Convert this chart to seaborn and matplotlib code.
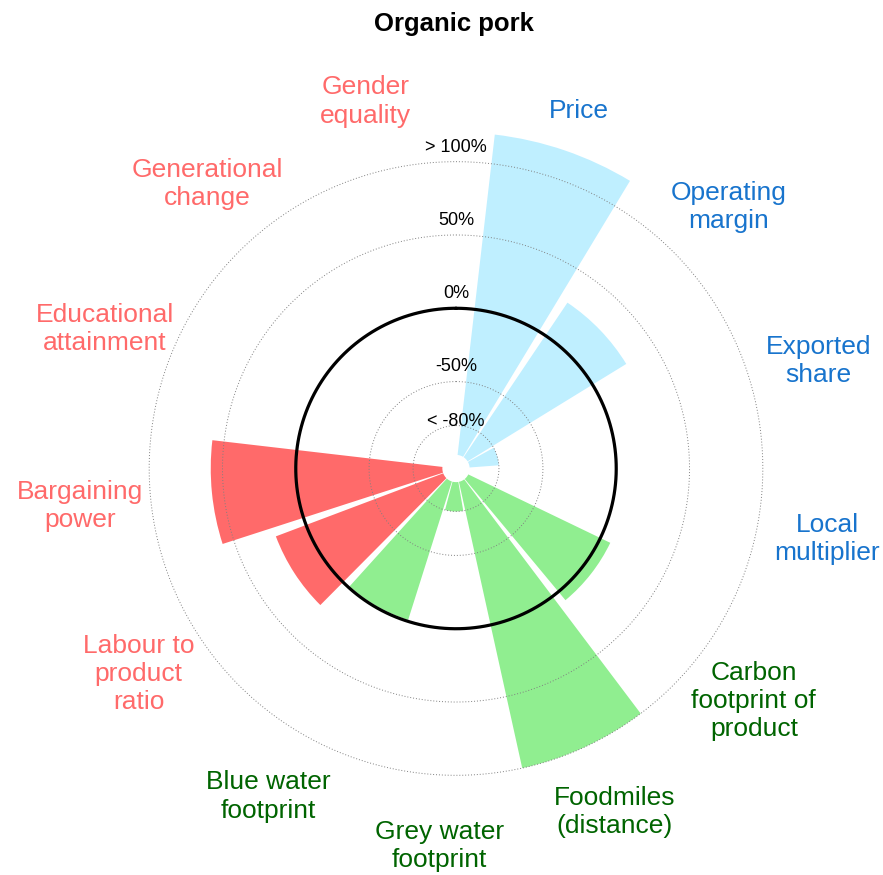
import numpy as np
import pandas as pd
import matplotlib
matplotlib.use("Agg")
import matplotlib.pyplot as plt
import seaborn as sns

# Dữ liệu
categories = ["Price", "Operating\nmargin", "Exported\nshare", "Local\nmultiplier",
              "Carbon\nfootprint of\nproduct", "Foodmiles\n(distance)", "Grey water\nfootprint",
              "Blue water\nfootprint", "Labour to\nproduct\nratio", "Bargaining\npower",
              "Educational\nattainment", "Generational\nchange", "Gender\nequality"]
groups = ["economic"] * 4 + ["environmental"] * 4 + ["social"] * 5
values = [120, 27, -80, np.nan, 7.5, 100, -80, -1, 22, 58, np.nan, np.nan, np.nan]

ring_values = [-80, -50, 50, 100]
ring_labels = ["< -80%", "-50%", "0%", "50%", "> 100%"]
ring_label_pos = [-77.5, -40, 10, 60, 110]

bar_colors = {"economic": "#BFEFFF", "environmental": "#90EE90", "social": "#FF6A6A"}
text_colors = {"economic": "#1874CD", "environmental": "#006400", "social": "#FF6A6A"}

BASE = -100          # bars start here
R_MIN = -109.3       # centre of the plot
R_MAX = 125

n = len(categories)
step = 2 * np.pi / 13.2
start = np.deg2rad(18.9)
theta = start + step * np.arange(n)

df = pd.DataFrame({"theta": theta, "value": values, "group": groups})
df["height"] = df["value"] - BASE

sns.set_style("white")
plt.rcParams["font.family"] = ["Liberation Sans", "DejaVu Sans"]
plt.rcParams["text.color"] = "black"

fig = plt.figure(figsize=(8.83, 8.75), dpi=100)
cx, cy = 456, 468.5
rad_px = (R_MAX - R_MIN) * 1.466
ax = fig.add_axes([(cx - rad_px) / 883, (875 - cy - rad_px) / 875,
                   2 * rad_px / 883, 2 * rad_px / 875], projection="polar")
ax.set_theta_zero_location("N")
ax.set_theta_direction(-1)

sns.barplot(data=df.dropna(), x="theta", y="height", hue="group", palette=bar_colors,
            native_scale=True, width=0.9, saturation=1, errorbar=None,
            linewidth=0, edgecolor="none", legend=False, ax=ax)

ax.set_ylim(R_MIN - BASE, R_MAX - BASE)
ax.set_xlim(0, 2 * np.pi)
ax.grid(False)
ax.spines["polar"].set_visible(False)
ax.set_xticks([])
ax.set_yticks([])
ax.set_xlabel("")
ax.set_ylabel("")

# vòng tròn lưới
circ = np.linspace(0, 2 * np.pi, 400)
for v in ring_values:
    ax.plot(circ, np.full_like(circ, v - BASE), color="0.5", lw=0.7,
            linestyle=(0, (1, 2)), zorder=3)
ax.plot(circ, np.full_like(circ, 0 - BASE), color="black", lw=2.3, zorder=4)

for lab, pos in zip(ring_labels, ring_label_pos):
    ax.text(0, pos - BASE, lab, ha="center", va="center", fontsize=13,
            color="black", zorder=5)

# nhãn danh mục
for t, lab, g in zip(theta, categories, groups):
    ax.text(t, 148.5 - BASE, lab, ha="center", va="center", fontsize=19,
            color=text_colors[g], linespacing=1.22, clip_on=False)

fig.text(454 / 883, 1 - 24 / 875, "Organic pork", ha="center", va="center",
         fontsize=18.5, fontweight="bold", color="black")

fig.savefig("out.png", dpi=100)
